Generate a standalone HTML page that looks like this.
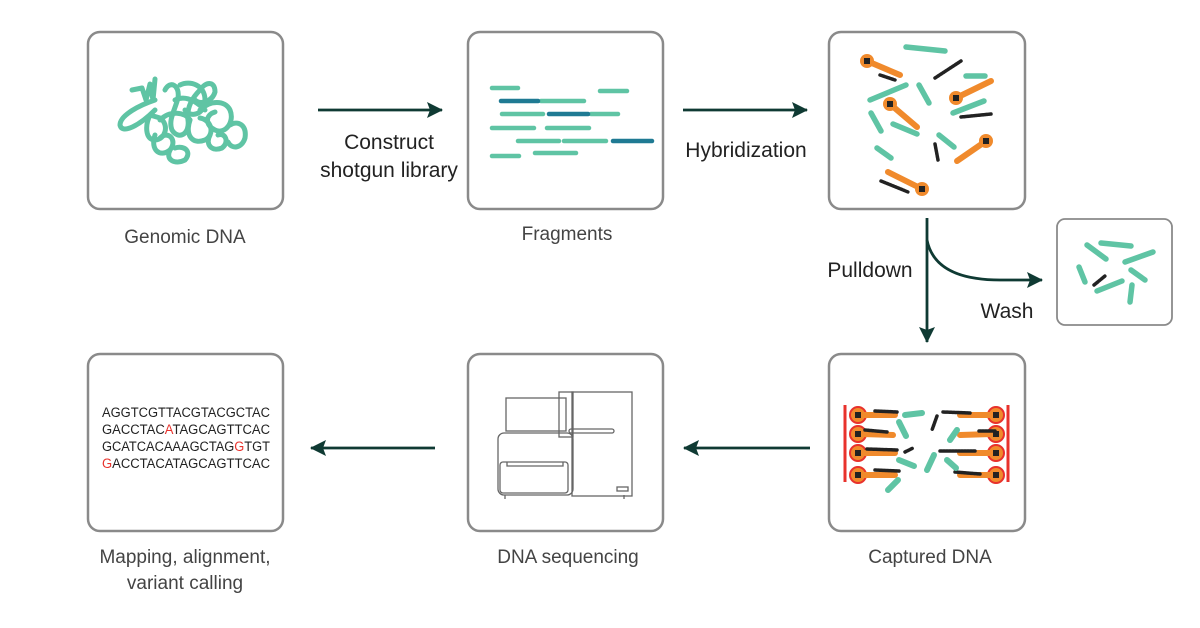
<!DOCTYPE html>
<html><head><meta charset="utf-8"><style>
body{margin:0;background:#fff;}
svg{display:block;}
text{font-family:"Liberation Sans",sans-serif;}
</style></head><body>
<svg width="1200" height="628" viewBox="0 0 1200 628" xmlns="http://www.w3.org/2000/svg">
<defs>
<marker id="ah" markerWidth="16" markerHeight="16" refX="15" refY="8" orient="auto" markerUnits="userSpaceOnUse" viewBox="0 0 16 16">
<path d="M0,0 L16,8 L0,16 L3,8 z" fill="#0f3a33"/></marker>
</defs>
<g fill="none" stroke="#8a8a8a" stroke-width="2.5">
<rect x="88" y="32" width="195" height="177" rx="12"/>
<rect x="468" y="32" width="195" height="177" rx="12"/>
<rect x="829" y="32" width="196" height="177" rx="12"/>
<rect x="1057" y="219" width="115" height="106" rx="8" stroke-width="1.8"/>
<rect x="88" y="354" width="195" height="177" rx="12"/>
<rect x="468" y="354" width="195" height="177" rx="12"/>
<rect x="829" y="354" width="196" height="177" rx="12"/>
</g>
<!-- arrows -->
<g stroke="#0f3a33" stroke-width="2.8" fill="none">
<line x1="318" y1="110" x2="442" y2="110" marker-end="url(#ah)"/>
<line x1="683" y1="110" x2="807" y2="110" marker-end="url(#ah)"/>
<line x1="927" y1="218" x2="927" y2="342" marker-end="url(#ah)"/>
<path d="M927,240 Q935,280 1000,280 L1042,280" marker-end="url(#ah)"/>
<line x1="810" y1="448" x2="684" y2="448" marker-end="url(#ah)"/>
<line x1="435" y1="448" x2="311" y2="448" marker-end="url(#ah)"/>
</g>
<g fill="#222" font-size="21" text-anchor="middle">
<text x="389" y="149">Construct</text>
<text x="389" y="177">shotgun library</text>
<text x="746" y="157">Hybridization</text>
<text x="870" y="277">Pulldown</text>
<text x="1007" y="318">Wash</text>
</g>
<g fill="#444" font-size="19" text-anchor="middle">
<text x="185" y="243">Genomic DNA</text>
<text x="567" y="240">Fragments</text>
<text x="930" y="563">Captured DNA</text>
<text x="568" y="563">DNA sequencing</text>
<text x="185" y="563">Mapping, alignment,</text>
<text x="185" y="589">variant calling</text>
</g>
<!-- genomic DNA -->
<g fill="none" stroke="#5fc4a4" stroke-width="5" stroke-linecap="round" stroke-linejoin="round">
<path d="M132,90 L142,88 L146,100 L150,84 L153,100 L155,79"/>
<path d="M155,100 C140,105 120,115 120,125 C122,135 140,125 155,110"/>
<path d="M150,115 C145,125 145,140 155,140 C165,140 170,125 160,118 Z"/>
<path d="M155,135 C150,150 160,158 170,150 C178,140 168,130 160,138"/>
<path d="M170,150 C165,160 175,165 185,160 C192,152 185,145 175,148"/>
<path d="M165,90 C170,80 180,85 178,98 C175,110 168,120 172,130 C178,140 190,135 188,120 C186,105 195,95 200,90"/>
<path d="M180,85 C190,80 205,85 205,100 C205,115 190,118 185,110"/>
<path d="M200,90 C205,82 215,80 215,92 C212,102 200,105 195,100"/>
<path d="M190,120 C185,135 192,145 205,140 C215,135 212,120 200,118"/>
<path d="M200,110 C210,100 225,100 230,110 C235,122 225,135 215,130 C205,125 205,115 215,112"/>
<path d="M210,135 C205,145 212,152 222,148 C230,142 225,132 218,135"/>
<path d="M230,125 C238,120 247,125 245,138 C242,148 232,150 228,142"/>
<path d="M160,120 C170,110 185,112 190,120"/>
<path d="M175,100 C185,95 195,100 205,110"/>
</g>
<!-- fragments -->
<g stroke-width="4.5" stroke-linecap="round">
<g stroke="#5fc4a4">
<line x1="492" y1="88" x2="518" y2="88"/><line x1="600" y1="91" x2="627" y2="91"/>
<line x1="541" y1="101" x2="584" y2="101"/>
<line x1="502" y1="114" x2="543" y2="114"/><line x1="591" y1="114" x2="618" y2="114"/>
<line x1="492" y1="128" x2="534" y2="128"/><line x1="547" y1="128" x2="589" y2="128"/>
<line x1="518" y1="141" x2="559" y2="141"/><line x1="564" y1="141" x2="606" y2="141"/>
<line x1="492" y1="156" x2="519" y2="156"/><line x1="535" y1="153" x2="576" y2="153"/>
</g>
<g stroke="#1f7a93">
<line x1="501" y1="101" x2="538" y2="101"/>
<line x1="549" y1="114" x2="588" y2="114"/>
<line x1="613" y1="141" x2="652" y2="141"/>
</g>
</g>
<!-- hybridization -->
<g stroke-linecap="round">
<g stroke="#5fc4a4" stroke-width="5.5">
<line x1="906" y1="47" x2="945" y2="51"/><line x1="966" y1="76" x2="985" y2="76"/>
<line x1="870" y1="100" x2="906" y2="85"/><line x1="919" y1="85" x2="929" y2="103"/>
<line x1="953" y1="113" x2="984" y2="101"/><line x1="871" y1="113" x2="881" y2="131"/>
<line x1="893" y1="124" x2="917" y2="134"/><line x1="939" y1="135" x2="954" y2="147"/>
<line x1="877" y1="148" x2="891" y2="158"/>
<line x1="1087" y1="245" x2="1106" y2="259"/><line x1="1101" y1="243" x2="1131" y2="246"/>
<line x1="1125" y1="262" x2="1153" y2="252"/><line x1="1079" y1="267" x2="1085" y2="282"/>
<line x1="1131" y1="270" x2="1145" y2="280"/><line x1="1097" y1="291" x2="1122" y2="281"/>
<line x1="1132" y1="285" x2="1130" y2="302"/>
</g>
<g stroke="#f08a2c" stroke-width="6">
<line x1="867" y1="61" x2="900" y2="75"/><line x1="956" y1="98" x2="991" y2="81"/>
<line x1="890" y1="104" x2="917" y2="127"/><line x1="957" y1="161" x2="986" y2="141"/>
<line x1="888" y1="172" x2="922" y2="189"/>
</g>
<g fill="#f08a2c">
<circle cx="867" cy="61" r="7"/><circle cx="956" cy="98" r="7"/><circle cx="890" cy="104" r="7"/>
<circle cx="986" cy="141" r="7"/><circle cx="922" cy="189" r="7"/>
</g>
<g fill="#222">
<rect x="864" y="58" width="6" height="6"/><rect x="953" y="95" width="6" height="6"/><rect x="887" y="101" width="6" height="6"/>
<rect x="983" y="138" width="6" height="6"/><rect x="919" y="186" width="6" height="6"/>
</g>
<g stroke="#222" stroke-width="3.5" stroke-dasharray="2 1">
<line x1="935" y1="78" x2="961" y2="61"/><line x1="961" y1="117" x2="991" y2="114"/>
<line x1="880" y1="75" x2="895" y2="80"/><line x1="935" y1="144" x2="938" y2="160"/>
<line x1="881" y1="181" x2="908" y2="192"/><line x1="1094" y1="285" x2="1105" y2="276"/>
</g>
</g>
<!-- captured DNA -->
<g>
<g stroke="#e8322c" stroke-width="3">
<line x1="845" y1="405" x2="845" y2="482"/><line x1="1008" y1="405" x2="1008" y2="482"/>
</g>
<g fill="#f08a2c" stroke="#e8322c" stroke-width="2">
<circle cx="858" cy="415" r="8"/><circle cx="858" cy="434" r="8"/><circle cx="858" cy="453" r="8"/><circle cx="858" cy="475" r="8"/>
<circle cx="996" cy="415" r="8"/><circle cx="996" cy="434" r="8"/><circle cx="996" cy="453" r="8"/><circle cx="996" cy="475" r="8"/>
</g>
<g stroke="#f08a2c" stroke-width="6" stroke-linecap="round">
<line x1="862" y1="415" x2="895" y2="415"/><line x1="862" y1="434" x2="893" y2="435"/>
<line x1="862" y1="453" x2="895" y2="453"/><line x1="862" y1="475" x2="895" y2="475"/>
<line x1="960" y1="415" x2="992" y2="415"/><line x1="960" y1="435" x2="992" y2="434"/>
<line x1="960" y1="453" x2="992" y2="453"/><line x1="960" y1="475" x2="992" y2="475"/>
</g>
<g fill="#222"><rect x="855" y="412" width="6" height="6"/><rect x="855" y="431" width="6" height="6"/><rect x="855" y="450" width="6" height="6"/><rect x="855" y="472" width="6" height="6"/>
<rect x="993" y="412" width="6" height="6"/><rect x="993" y="431" width="6" height="6"/><rect x="993" y="450" width="6" height="6"/><rect x="993" y="472" width="6" height="6"/></g>
<g stroke="#222" stroke-width="3.5" stroke-dasharray="2 1" stroke-linecap="round">
<line x1="875" y1="411" x2="897" y2="412"/><line x1="865" y1="430" x2="887" y2="432"/>
<line x1="867" y1="449" x2="897" y2="450"/><line x1="875" y1="470" x2="899" y2="471"/>
<line x1="943" y1="412" x2="970" y2="413"/><line x1="979" y1="431" x2="995" y2="431"/>
<line x1="940" y1="451" x2="975" y2="451"/><line x1="955" y1="472" x2="980" y2="474"/>
<line x1="937" y1="416" x2="932" y2="430"/><line x1="905" y1="452" x2="913" y2="448"/>
</g>
<g stroke="#5fc4a4" stroke-width="6" stroke-linecap="round">
<line x1="905" y1="415" x2="922" y2="413"/><line x1="899" y1="422" x2="906" y2="436"/>
<line x1="957" y1="430" x2="950" y2="440"/><line x1="899" y1="460" x2="914" y2="466"/>
<line x1="934" y1="455" x2="927" y2="470"/><line x1="947" y1="460" x2="956" y2="468"/>
<line x1="888" y1="490" x2="898" y2="480"/>
</g>
</g>
<!-- sequencer -->
<g fill="none" stroke="#666" stroke-width="1.3">
<rect x="506" y="398" width="60" height="33"/>
<rect x="559" y="392" width="14" height="45"/>
<rect x="572" y="392" width="60" height="104"/>
<rect x="569" y="429" width="45" height="4" rx="2"/>
<rect x="498" y="433" width="75" height="62" rx="6"/>
<rect x="500" y="462" width="68" height="31" rx="3"/>
<path d="M507,462 v4 h56 v-4"/>
<rect x="617" y="487" width="11" height="4"/>
<path d="M505,495 v4 M624,495 v4"/>
</g>
<!-- sequence text -->
<g font-size="13.5" fill="#222" font-family="Liberation Sans,sans-serif">
<text x="102" y="417" textLength="168" lengthAdjust="spacingAndGlyphs">AGGTCGTTACGTACGCTAC</text>
<text x="102" y="434" textLength="168" lengthAdjust="spacingAndGlyphs">GACCTAC<tspan fill="#e8322c">A</tspan>TAGCAGTTCAC</text>
<text x="102" y="451" textLength="168" lengthAdjust="spacingAndGlyphs">GCATCACAAAGCTAG<tspan fill="#e8322c">G</tspan>TGT</text>
<text x="102" y="468" textLength="168" lengthAdjust="spacingAndGlyphs"><tspan fill="#e8322c">G</tspan>ACCTACATAGCAGTTCAC</text>
</g>
</svg>
</body></html>
